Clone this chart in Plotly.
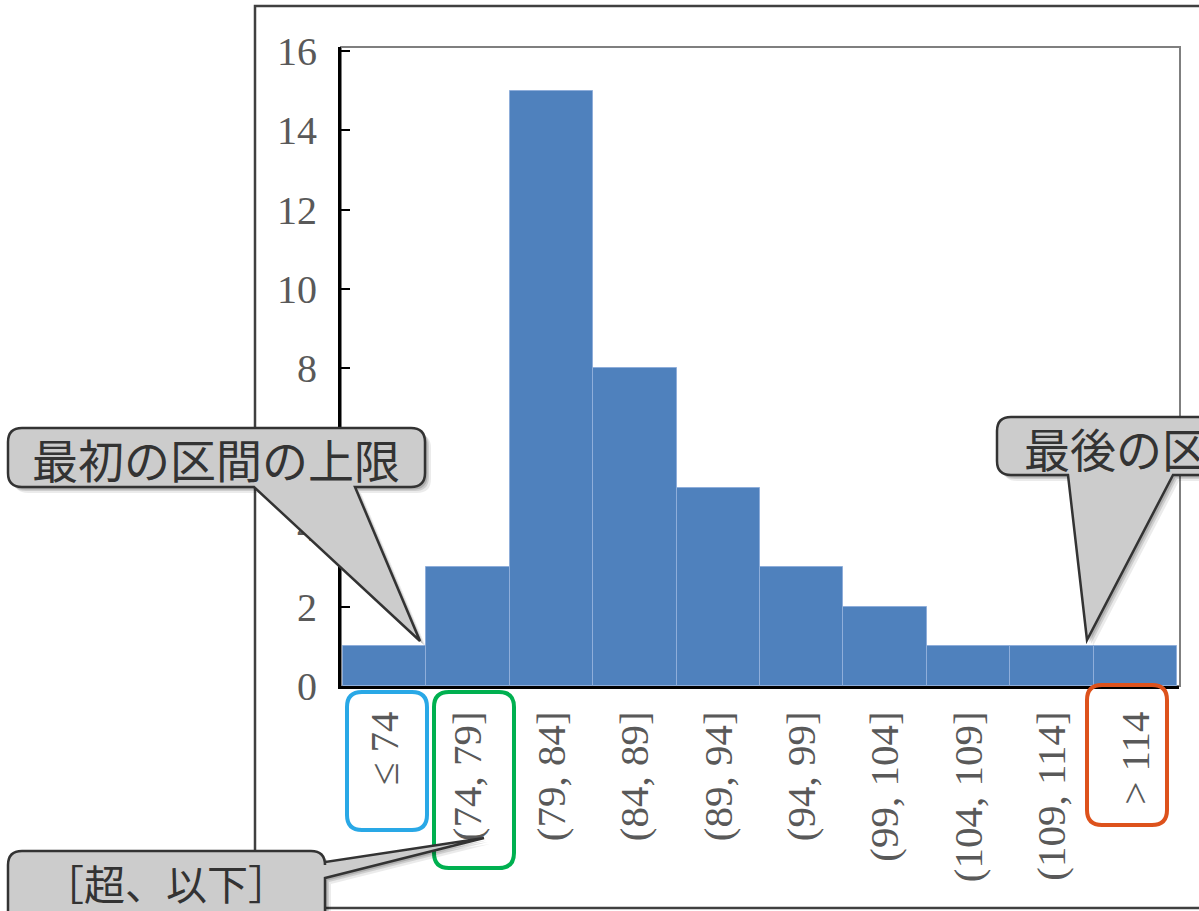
import plotly.graph_objects as go

# ---- data ----
bins = ["≤ 74", "(74, 79]", "(79, 84]", "(84, 89]", "(89, 94]",
        "(94, 99]", "(99, 104]", "(104, 109]", "(109, 114]", "> 114"]
counts = [1, 3, 15, 8, 5, 3, 2, 1, 1, 1]
y_ticks = [0, 2, 4, 6, 8, 10, 12, 14, 16]

callout_texts = ["最初の区間の上限", "最後の区間の下限", "［超、以下］"]

W, H = 1199, 911


def X(px):
    return px / W


def Y(py):
    return 1 - py / H


def rrect_path(x0, y0, x1, y1, r, pointer=None, dx=0, dy=0):
    """Rounded rect (pixel coords) with optional pointer, returned as paper path."""
    x0 += dx; x1 += dx; y0 += dy; y1 += dy
    pts = []

    def P(cmd, *c):
        vals = []
        for i in range(0, len(c), 2):
            vals.append(f"{X(c[i]):.5f},{Y(c[i+1]):.5f}")
        return cmd + " " + " ".join(vals)
    pts.append(P("M", x0 + r, y0))
    pts.append(P("L", x1 - r, y0))
    pts.append(P("Q", x1, y0, x1, y0 + r))
    if pointer and pointer[0] == "right":
        _, a, b, tx, ty = pointer
        pts.append(P("L", x1, a + dy))
        pts.append(P("L", tx + dx, ty + dy))
        pts.append(P("L", x1, b + dy))
    pts.append(P("L", x1, y1 - r))
    pts.append(P("Q", x1, y1, x1 - r, y1))
    if pointer and pointer[0] == "bottom":
        _, a, b, tx, ty = pointer
        pts.append(P("L", b + dx, y1))
        pts.append(P("L", tx + dx, ty + dy))
        pts.append(P("L", a + dx, y1))
    pts.append(P("L", x0 + r, y1))
    pts.append(P("Q", x0, y1, x0, y1 - r))
    pts.append(P("L", x0, y0 + r))
    pts.append(P("Q", x0, y0, x0 + r, y0))
    return " ".join(pts) + " Z"


fig = go.Figure()
fig.add_trace(go.Bar(
    x=bins, y=counts,
    marker=dict(color="#4F81BD", line=dict(color="#8FAEDA", width=1)),
    hoverinfo="skip",
))

shapes = []
# outer chart border
shapes.append(dict(type="rect", xref="paper", yref="paper",
                   x0=X(255), x1=X(1260), y0=Y(908), y1=Y(6),
                   line=dict(color="#404040", width=2.5), layer="below"))
# plot-area frame
shapes.append(dict(type="rect", xref="paper", yref="paper",
                   x0=X(341), x1=X(1180), y0=Y(686), y1=Y(47),
                   line=dict(color="#7F7F7F", width=2), layer="below"))

# coloured highlight boxes around tick labels
for (x0, y0, x1, y1, col) in [(347, 692, 427, 830, "#29A8E6"),
                              (434, 692, 514, 868, "#00B050"),
                              (1087, 685, 1167, 825, "#DD521C")]:
    shapes.append(dict(type="path", xref="paper", yref="paper",
                       path=rrect_path(x0, y0, x1, y1, 15),
                       line=dict(color=col, width=4), layer="above"))

callouts = [
    dict(rect=(8, 428, 425, 487), pointer=("bottom", 254, 355, 420, 641)),
    dict(rect=(997, 417, 1440, 475), pointer=("bottom", 1068, 1173, 1087, 640)),
    dict(rect=(8, 851, 325, 930), pointer=("right", 862, 878, 484, 838)),
]
for c in callouts:
    x0, y0, x1, y1 = c["rect"]
    for (off, alpha) in [(6, 0.08), (4, 0.12), (2.5, 0.15)]:
        shapes.append(dict(type="path", xref="paper", yref="paper",
                           path=rrect_path(x0, y0, x1, y1, 14, c["pointer"], off, off),
                           fillcolor=f"rgba(0,0,0,{alpha})", line=dict(width=0),
                           layer="above"))
    shapes.append(dict(type="path", xref="paper", yref="paper",
                       path=rrect_path(x0, y0, x1, y1, 14, c["pointer"]),
                       fillcolor="#CCCCCC", line=dict(color="#333333", width=2.5),
                       layer="above"))

annotations = [
    dict(text=callout_texts[0], x=X(216), y=Y(458), xref="paper", yref="paper",
         showarrow=False, xanchor="center", yanchor="middle",
         font=dict(family="Noto Sans CJK JP", size=46, color="#333333")),
    dict(text=callout_texts[1], x=X(1022), y=Y(447), xref="paper", yref="paper",
         showarrow=False, xanchor="left", yanchor="middle",
         font=dict(family="Noto Sans CJK JP", size=46, color="#333333")),
    dict(text=callout_texts[2], x=X(166), y=Y(882), xref="paper", yref="paper",
         showarrow=False, xanchor="center", yanchor="middle",
         font=dict(family="Noto Sans CJK JP", size=41, color="#333333")),
]

fig.update_layout(
    width=W, height=H,
    margin=dict(l=0, r=0, t=0, b=0, autoexpand=False),
    paper_bgcolor="white", plot_bgcolor="white",
    bargap=0, showlegend=False,
    shapes=shapes, annotations=annotations,
    xaxis=dict(domain=[X(341), X(1179)], type="category", automargin=False,
               range=[-0.525, 9.525], tickangle=-90, ticks="",
               showline=True, linecolor="black", linewidth=3,
               showgrid=False, zeroline=False, ticklabelstandoff=6,
               tickfont=dict(family="Liberation Serif", size=41, color="#595959")),
    yaxis=dict(domain=[Y(686), Y(47)], range=[0, 16.1], automargin=False,
               tickvals=y_ticks, ticks="inside", ticklen=9, tickwidth=2,
               tickcolor="black", showline=True, linecolor="black", linewidth=3,
               showgrid=False, zeroline=False, ticklabelstandoff=13,
               tickfont=dict(family="Liberation Serif", size=40, color="#595959")),
)

fig.write_html("out.html", config={"displayModeBar": False},
               post_script="document.body.style.margin='0';")
